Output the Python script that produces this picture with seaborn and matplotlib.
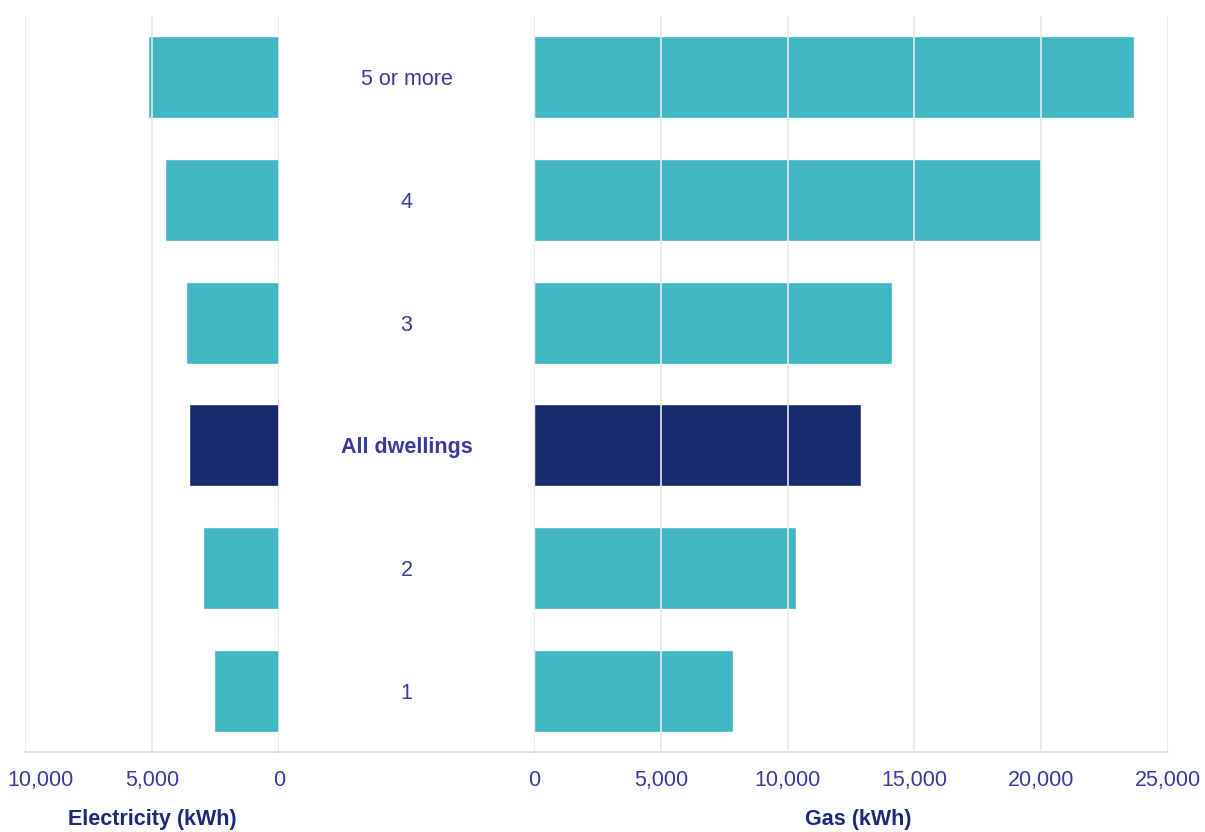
import numpy as np
import pandas as pd
import matplotlib
matplotlib.use('Agg')
import matplotlib.pyplot as plt
import matplotlib.transforms as mtransforms
import seaborn as sns
from matplotlib.ticker import FuncFormatter

categories = ['5 or more', '4', '3', 'All dwellings', '2', '1']
electricity = [5150, 4500, 3650, 3550, 3000, 2550]
gas = [23650, 20000, 14100, 12900, 10350, 7850]
elec_ticks = [10000, 5000, 0]
gas_ticks = [0, 5000, 10000, 15000, 20000, 25000]

LIGHT = '#41b6c4'
DARK = '#172a6e'
TEXT = '#3a3aa0'
TITLE = '#1c2a7a'
GRID = '#e8e8e8'
FS = 15.5

df = pd.DataFrame({'category': categories, 'electricity': electricity, 'gas': gas})
palette = {c: (DARK if c == 'All dwellings' else LIGHT) for c in categories}

sns.set_theme(style='white')
plt.rcParams['font.family'] = ['Liberation Sans', 'DejaVu Sans']

fig = plt.figure(figsize=(12.05, 8.32), dpi=100)
bottom, height = 80 / 832, 736 / 832
ax_l = fig.add_axes([25 / 1205, bottom, 254 / 1205, height])
ax_m = fig.add_axes([279 / 1205, bottom, 255 / 1205, height], sharey=ax_l)
ax_r = fig.add_axes([534 / 1205, bottom, 634 / 1205, height], sharey=ax_l)

sns.barplot(data=df, x='electricity', y='category', hue='category', palette=palette,
            order=categories, orient='h', width=0.67, legend=False, saturation=1, ax=ax_l)
sns.barplot(data=df, x='gas', y='category', hue='category', palette=palette,
            order=categories, orient='h', width=0.67, legend=False, saturation=1, ax=ax_r)

fmt = FuncFormatter(lambda v, p: f'{int(v):,}')

ax_l.set_xlim(10000, 0)
ax_l.set_xticks(elec_ticks)
ax_r.set_xlim(0, 25000)
ax_r.set_xticks(gas_ticks)
ax_l.set_ylim(5.5, -0.5)

for ax in (ax_l, ax_r):
    ax.xaxis.set_major_formatter(fmt)
    ax.grid(axis='x', color=GRID, linewidth=1.2)
    ax.set_axisbelow(False)
    ax.tick_params(axis='x', length=0, pad=13, labelsize=FS, labelcolor=TEXT)
    ax.tick_params(axis='y', left=False, labelleft=False)
    ax.set_ylabel('')

# nudge the leftmost label inside the figure, as in the original
first = ax_l.get_xticklabels()[0]
first.set_transform(first.get_transform() + mtransforms.ScaledTranslation(0.16, 0, fig.dpi_scale_trans))

ax_l.set_xlabel('Electricity (kWh)', fontsize=FS, fontweight='bold', color=TITLE)
ax_r.set_xlabel('Gas (kWh)', fontsize=FS, fontweight='bold', color=TITLE)
ax_r.xaxis.set_label_coords(0.511, -0.078)
ax_l.xaxis.set_label_coords(0.5, -0.078)

ax_m.set_xlim(0, 1)
ax_m.set_xticks([])
ax_m.tick_params(axis='y', left=False, labelleft=False)
for i, c in enumerate(categories):
    ax_m.text(0.5, i, c, ha='center', va='center_baseline', fontsize=FS, color=TEXT,
              fontweight='bold' if c == 'All dwellings' else 'normal')

for ax in (ax_l, ax_m, ax_r):
    for side in ('top', 'left', 'right'):
        ax.spines[side].set_visible(False)
    ax.spines['bottom'].set_color('#d9d9d9')
    ax.spines['bottom'].set_linewidth(1.2)
    ax.patch.set_alpha(0)

fig.savefig('out.png', dpi=100)
